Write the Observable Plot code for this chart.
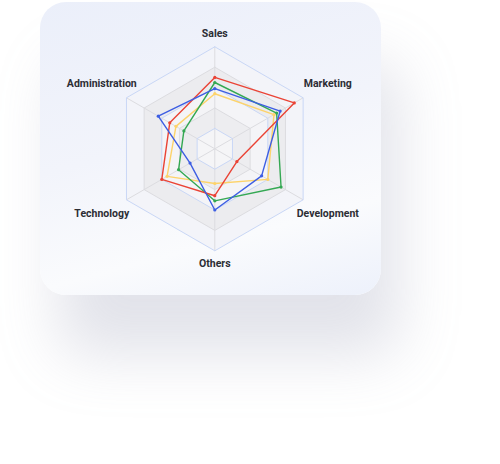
<!DOCTYPE html>
<html><head><meta charset="utf-8">
<script src="https://cdn.jsdelivr.net/npm/d3@7"></script>
<script src="https://cdn.jsdelivr.net/npm/@observablehq/plot@0.6"></script>
<style>
html,body{margin:0;padding:0;background:#fff;}
#wrap{position:relative;width:500px;height:464px;overflow:hidden;}
#card{position:absolute;left:40px;top:2px;width:341px;height:293px;border-radius:26px;
background:linear-gradient(165deg,#ebeffa 0%,#f2f4fb 45%,#fafbfd 75%,#edf1fb 100%);
box-shadow: 18px 60px 60px rgba(150,155,178,0.28);}
#chart{position:absolute;left:0;top:0;}
</style></head>
<body><div id="wrap"><div id="card"></div><div id="chart"></div></div>
<script>
// ---- data ----
const axes = ["Sales", "Marketing", "Development", "Others", "Technology", "Administration"];
const levels = [20, 40, 60, 80, 100];
const seriesNames = ["Series 1", "Series 2", "Series 3", "Series 4"];
const seriesColors = ["#ea4335", "#34a853", "#fdd36a", "#3d5ee3"];
const series1Values = [70, 90, 25, 46, 60, 51];
const series2Values = [65, 70, 75, 51, 41, 35];
const series3Values = [54, 67, 60, 34, 54, 44];
const series4Values = [59, 74, 53, 60, 28, 64];

// ---- geometry helpers ----
const W = 500, H = 464, cx = 214.3, cy = 148.3, Rpx = 102;
const k = Rpx / 100;
const ang = i => Math.PI / 2 - i * Math.PI / 3;
const pt = (i, v) => ({x: v * Math.cos(ang(i)), y: v * Math.sin(ang(i))});

const ringData = levels.flatMap(level =>
  d3.range(7).map(j => ({level, ...pt(j % 6, level)})));
const spokeData = axes.map((a, i) => ({axis: a, ...pt(i, 100)}));
const valuesBySeries = [series1Values, series2Values, series3Values, series4Values];
const seriesData = seriesNames.flatMap((s, si) =>
  d3.range(7).map(j => ({series: s, axis: axes[j % 6], value: valuesBySeries[si][j % 6], ...pt(j % 6, valuesBySeries[si][j % 6])})));
const dotData = seriesData.filter((d, idx) => idx % 7 !== 6);
const labelData = axes.map((a, i) => {
  const r = 112.7 + 17.6 * Math.abs(Math.cos(ang(i)));
  return {axis: a, ...pt(i, r)};
});

const bandFill = {100: "#f3f4f9", 80: "#ececef", 60: "#f4f4f7", 40: "#ededf0", 20: "#f5f5f7"};
const ringStroke = l => (l / 20) % 2 === 1 ? "#c9d7f6" : "#dcdce0";
const drawOrder = ["Series 3", "Series 2", "Series 1", "Series 4"];

const chart = Plot.plot({
  width: W, height: H,
  margin: 0,
  style: {background: "transparent", overflow: "visible"},
  x: {domain: [-cx / k, (W - cx) / k], range: [0, W], axis: null},
  y: {domain: [-(H - cy) / k, cy / k], range: [H, 0], axis: null},
  color: {domain: seriesNames, range: seriesColors},
  marks: [
    ...levels.slice().reverse().map(l =>
      Plot.line(ringData.filter(d => d.level === l), {x: "x", y: "y", fill: bandFill[l], stroke: "none"})),
    Plot.link(spokeData, {x1: 0, y1: 0, x2: "x", y2: "y", stroke: "#dcdce0", strokeWidth: 1}),
    ...levels.map(l =>
      Plot.line(ringData.filter(d => d.level === l), {x: "x", y: "y", stroke: ringStroke(l), strokeWidth: 1})),
    ...drawOrder.map(s =>
      Plot.line(seriesData.filter(d => d.series === s), {x: "x", y: "y", stroke: "series", strokeWidth: 1.4, curve: "linear"})),
    Plot.dot(dotData, {x: "x", y: "y", fill: "series", r: 1.6}),
    Plot.text(labelData, {x: "x", y: "y", text: "axis", fill: "#2c2d34", fontSize: 10.5, fontWeight: "bold",
      fontFamily: "Roboto", textAnchor: "middle", style: {letterSpacing: "0.35px"}})
  ]
});
document.getElementById("chart").appendChild(chart);
</script>
</body></html>
